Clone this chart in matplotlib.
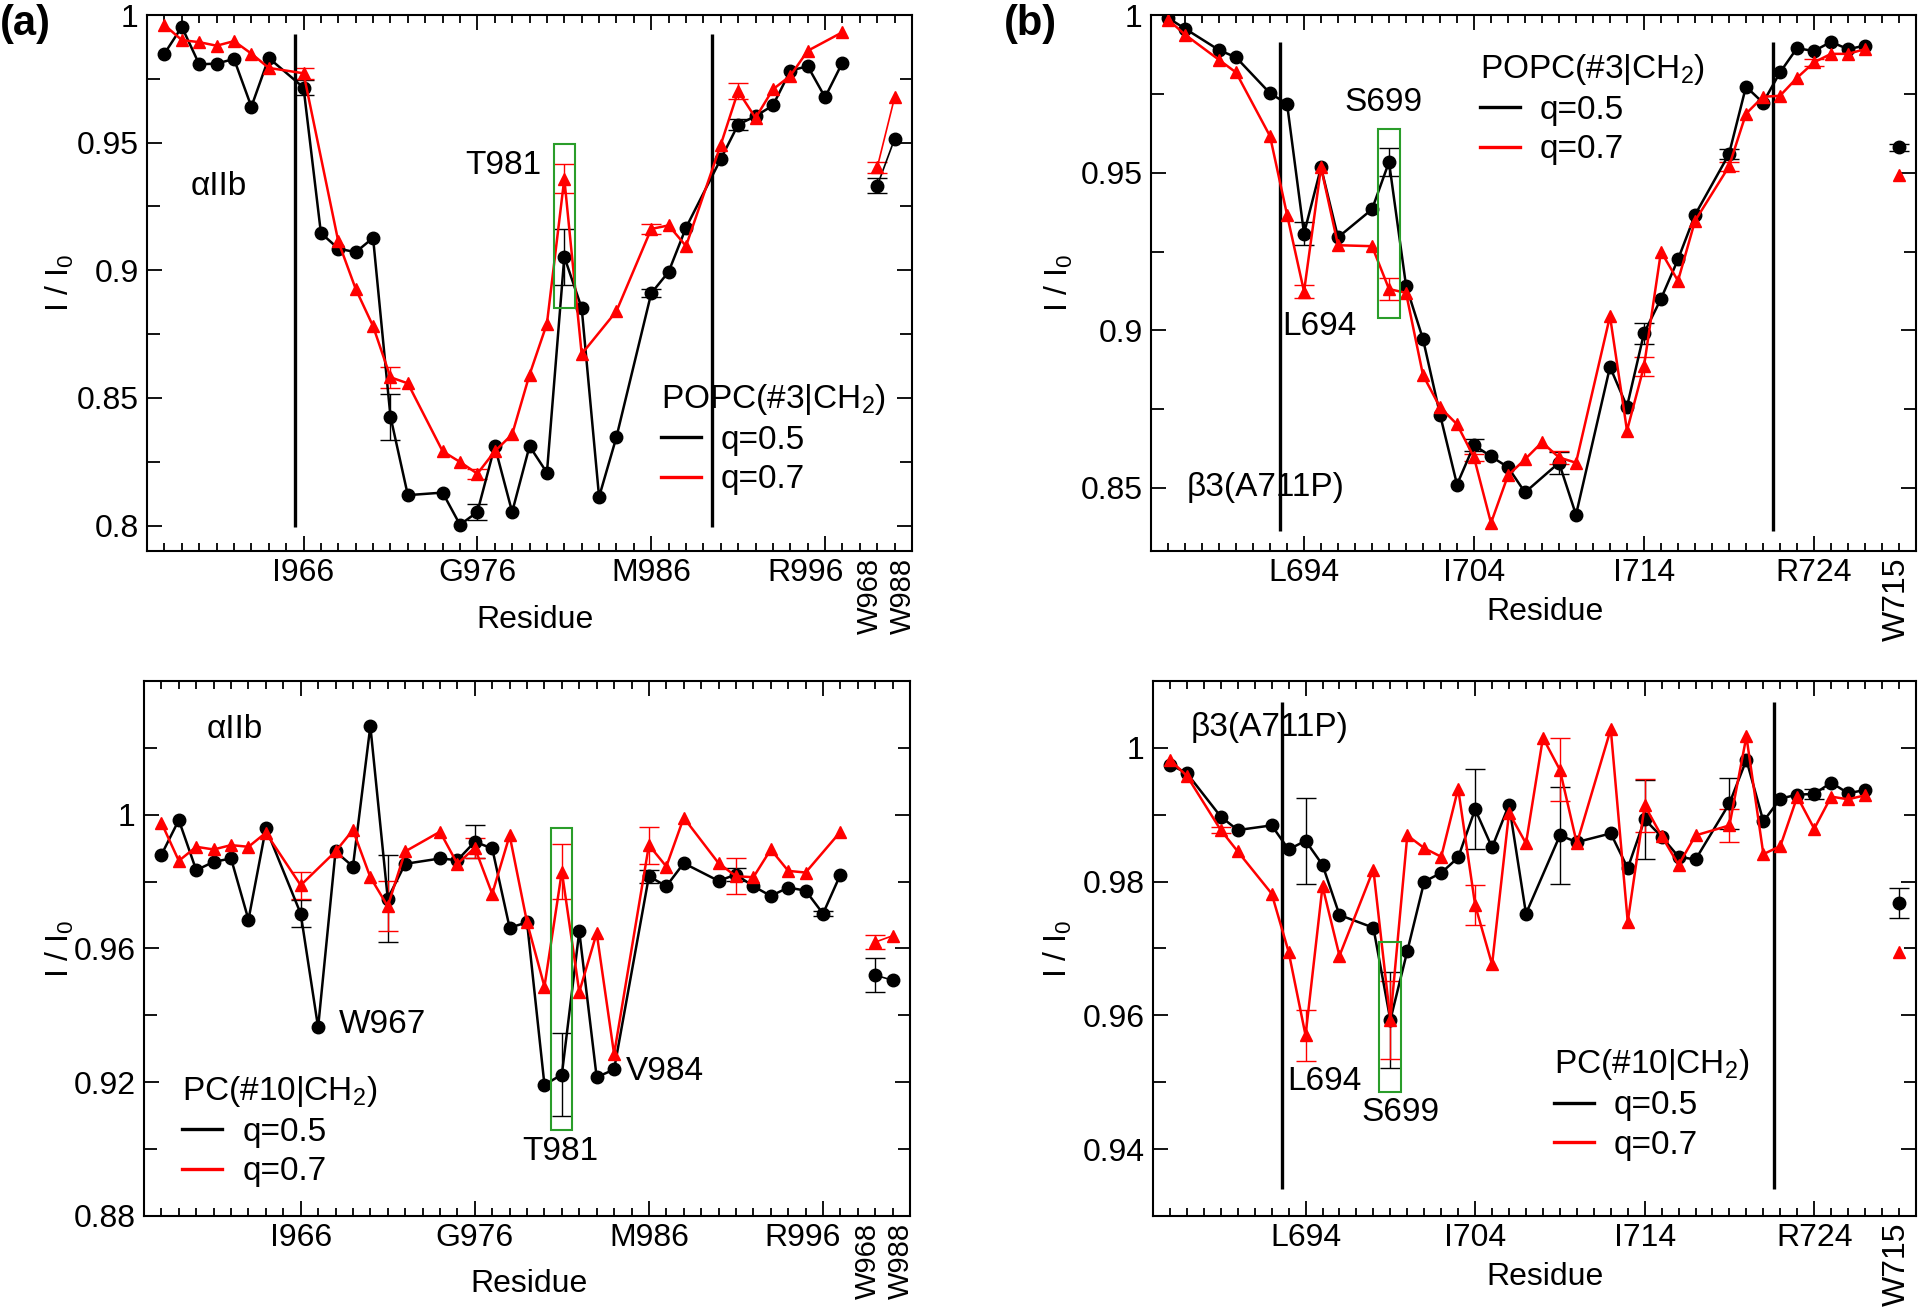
import matplotlib
matplotlib.use('Agg')
import matplotlib.pyplot as plt
from matplotlib.lines import Line2D
from matplotlib.patches import Rectangle
from matplotlib.transforms import ScaledTranslation

plt.rcParams['font.family'] = ['Liberation Sans', 'DejaVu Sans']
plt.rcParams['mathtext.fontset'] = 'custom'
plt.rcParams['mathtext.rm'] = 'Liberation Sans'
plt.rcParams['mathtext.it'] = 'Liberation Sans:italic'
plt.rcParams['mathtext.bf'] = 'Liberation Sans:bold'

# ---- panel (a): alphaIIb, x = residue number; W968 / W988 sit in slots 999 / 1000
a_res_05 = [958, 959, 960, 961, 962, 963, 964, 966, 967, 968, 969, 970, 971, 972,
            974, 975, 976, 977, 978, 979, 980, 981, 982, 983, 984,
            986, 987, 988, 990, 991, 992, 993, 994, 995, 996, 997]
a_top_05 = [0.9849, 0.9954, 0.9807, 0.9810, 0.9828, 0.9641, 0.9832, 0.9716, 0.9146, 0.9085,
            0.9071, 0.9127, 0.8427, 0.8119, 0.8129, 0.8003, 0.8053, 0.8311, 0.8053, 0.8311,
            0.8207, 0.9053, 0.8852, 0.8112, 0.8347, 0.8910, 0.8994, 0.9167, 0.9436, 0.9571,
            0.9604, 0.9646, 0.9782, 0.9800, 0.9678, 0.9814]
a_bot_05 = [0.9880, 0.9984, 0.9834, 0.9859, 0.9869, 0.9686, 0.9960, 0.9704, 0.9364, 0.9890,
            0.9845, 1.0265, 0.9749, 0.9853, 0.9869, 0.9864, 0.9919, 0.9899, 0.9662, 0.9678,
            0.9192, 0.9223, 0.9651, 0.9215, 0.9238, 0.9816, 0.9786, 0.9855, 0.9802, 0.9821,
            0.9786, 0.9757, 0.9782, 0.9773, 0.9704, 0.9821]

a_res_top_07 = [958, 959, 960, 961, 962, 963, 964, 966, 968, 969, 970, 971, 972,
                974, 975, 976, 977, 978, 979, 980, 981, 982, 984,
                986, 987, 988, 990, 991, 992, 993, 994, 995, 997]
a_top_07 = [0.9961, 0.9902, 0.9894, 0.9880, 0.9898, 0.9849, 0.9793, 0.9772, 0.9113, 0.8927,
            0.8781, 0.8581, 0.8557, 0.8291, 0.8249, 0.8203, 0.8291, 0.8357, 0.8591, 0.8791,
            0.9359, 0.8672, 0.8840, 0.9162, 0.9176, 0.9095, 0.9492, 0.9702, 0.9597, 0.9709,
            0.9762, 0.9860, 0.9933]
a_res_bot_07 = [958, 959, 960, 961, 962, 963, 964, 966, 968, 969, 970, 971, 972,
                974, 975, 976, 977, 978, 979, 980, 981, 982, 983, 984,
                986, 987, 988, 990, 991, 992, 993, 994, 995, 997]
a_bot_07 = [0.9976, 0.9862, 0.9904, 0.9896, 0.9909, 0.9904, 0.9946, 0.9789, 0.9890, 0.9954,
            0.9813, 0.9726, 0.9890, 0.9949, 0.9853, 0.9901, 0.9763, 0.9938, 0.9678, 0.9486,
            0.9830, 0.9470, 0.9646, 0.9284, 0.9909, 0.9845, 0.9991, 0.9855, 0.9816, 0.9813,
            0.9896, 0.9832, 0.9827, 0.9949]

a_trp_names = ['W968', 'W988']
a_trp_slots = [999, 1000]
a_trp_top_05 = [0.9331, 0.9515]
a_trp_top_07 = [0.9403, 0.9678]
a_trp_bot_05 = [0.9520, 0.9505]
a_trp_bot_07 = [0.9619, 0.9638]

# error bars (half widths) keyed by slot
a_top_err_05 = {966: 0.003, 971: 0.009, 976: 0.003, 981: 0.011, 986: 0.0015, 991: 0.002, 999: 0.003}
a_top_err_07 = {966: 0.0022, 971: 0.0042, 976: 0.002, 981: 0.0056, 986: 0.002, 991: 0.003, 999: 0.002}
a_bot_err_05 = {966: 0.004, 971: 0.013, 976: 0.005, 981: 0.0125, 986: 0.002, 991: 0.002,
                996: 0.0008, 999: 0.005}
a_bot_err_07 = {966: 0.004, 971: 0.0075, 976: 0.003, 981: 0.0082, 986: 0.0055, 991: 0.0054,
                999: 0.002}

a_ticks = [966, 976, 986, 996]
a_ticklabels = ['I966', 'G976', 'M986', 'R996']
a_tm_edges = [965.5, 989.5]

# ---- panel (b): beta3(A711P); W715 sits in slot 729
b_res_05 = [686, 687, 689, 690, 692, 693, 694, 695, 696, 698, 699, 700, 701, 702, 703,
            704, 705, 706, 707, 709, 710, 712, 713, 714, 715, 716, 717,
            719, 720, 721, 722, 723, 724, 725, 726, 727]
b_top_05 = [0.9991, 0.9957, 0.9889, 0.9866, 0.9752, 0.9719, 0.9307, 0.9517, 0.9295, 0.9384,
            0.9534, 0.9142, 0.8972, 0.8733, 0.8511, 0.8636, 0.8600, 0.8566, 0.8486, 0.8580,
            0.8415, 0.8884, 0.8758, 0.8991, 0.9100, 0.9225, 0.9366, 0.9559, 0.9773, 0.9722,
            0.9818, 0.9895, 0.9886, 0.9915, 0.9892, 0.9903]
b_bot_05 = [0.9975, 0.9962, 0.9897, 0.9877, 0.9884, 0.9848, 0.9861, 0.9825, 0.9750, 0.9731,
            0.9593, 0.9696, 0.9800, 0.9813, 0.9836, 0.9908, 0.9851, 0.9915, 0.9752, 0.9869,
            0.9859, 0.9872, 0.9820, 0.9893, 0.9867, 0.9837, 0.9833, 0.9917, 0.9982, 0.9890,
            0.9924, 0.9930, 0.9931, 0.9948, 0.9932, 0.9937]

b_res_07 = [686, 687, 689, 690, 692, 693, 694, 695, 696, 698, 699, 700, 701, 702, 703,
            704, 705, 706, 707, 708, 709, 710, 712, 713, 714, 715, 716, 717,
            719, 720, 721, 722, 723, 724, 725, 726, 727]
b_top_07 = [0.9986, 0.9938, 0.9858, 0.9818, 0.9616, 0.9367, 0.9123, 0.9517, 0.9270, 0.9267,
            0.9131, 0.9119, 0.8858, 0.8756, 0.8702, 0.8597, 0.8389, 0.8540, 0.8591, 0.8645,
            0.8597, 0.8580, 0.9045, 0.8682, 0.8886, 0.9250, 0.9157, 0.9347, 0.9520, 0.9687,
            0.9741, 0.9744, 0.9801, 0.9850, 0.9877, 0.9877, 0.9892]
b_bot_07 = [0.9982, 0.9958, 0.9877, 0.9845, 0.9782, 0.9695, 0.9570, 0.9793, 0.9689, 0.9818,
            0.9593, 0.9869, 0.9850, 0.9837, 0.9939, 0.9765, 0.9676, 0.9903, 0.9857, 1.0015,
            0.9967, 0.9857, 1.0028, 0.9740, 0.9914, 0.9868, 0.9825, 0.9869, 0.9884, 1.0017,
            0.9841, 0.9853, 0.9927, 0.9879, 0.9927, 0.9923, 0.9929]

b_trp_names = ['W715']
b_trp_slots = [729]
b_trp_top_05 = [0.9580]
b_trp_top_07 = [0.9494]
b_trp_bot_05 = [0.9768]
b_trp_bot_07 = [0.9695]

b_top_err_05 = {694: 0.0037, 699: 0.0045, 704: 0.002, 709: 0.0035, 714: 0.0033, 719: 0.0015, 729: 0.001}
b_top_err_07 = {694: 0.002, 699: 0.0035, 704: 0.001, 709: 0.002, 714: 0.003, 719: 0.0015, 724: 0.001}
b_bot_err_05 = {694: 0.0064, 699: 0.0072, 704: 0.006, 709: 0.0072, 714: 0.0059, 719: 0.0038,
                724: 0.0008, 729: 0.0022}
b_bot_err_07 = {689: 0.0005, 694: 0.0038, 699: 0.0058, 704: 0.003, 709: 0.0047, 714: 0.004, 719: 0.0025}

b_ticks = [694, 704, 714, 724]
b_ticklabels = ['L694', 'I704', 'I714', 'R724']
b_tm_edges = [692.6, 721.6]

FS = 23
GREEN = '#2a9d2a'
TICKPAD = 5


def draw(ax, res, vals, slots, trp, err, color, marker, ms):
    ax.plot(res, vals, color=color, lw=1.8, marker=marker, ms=ms, zorder=3)
    ax.plot(slots, trp, color=color, lw=1.2, marker=marker, ms=ms, zorder=3)
    y_of = dict(zip(list(res) + list(slots), list(vals) + list(trp)))
    ex = list(err.keys())
    ax.errorbar(ex, [y_of[r] for r in ex], yerr=list(err.values()), fmt='none',
                ecolor=color, elinewidth=1.0, capsize=7, capthick=1.0, zorder=2)


def under_axis(ax, x, text, rotation=0, size=FS):
    # text hung below the x axis, same gap as the tick labels
    tr = ax.get_xaxis_transform() + ScaledTranslation(0, -TICKPAD / 72, ax.figure.dpi_scale_trans)
    ax.text(x, 0, text, transform=tr, ha='center', va='top', rotation=rotation, fontsize=size)


def setup(ax, xlim, majors, labels, ylim, yticks, ylabels, yminor):
    ax.set_xlim(*xlim)
    ax.set_ylim(*ylim)
    ax.set_xticks(majors, labels)
    ax.set_xticks([r for r in range(xlim[0] + 1, xlim[1]) if r not in majors], minor=True)
    ax.set_yticks(yticks, ylabels)
    ax.set_yticks(yminor, minor=True)
    ax.tick_params(which='both', direction='in', top=True, right=True, labelsize=FS, width=1.3)
    ax.tick_params(axis='x', which='major', length=11, pad=TICKPAD)
    ax.tick_params(axis='x', which='minor', length=6)
    ax.tick_params(axis='y', which='major', length=11, pad=6)
    ax.tick_params(axis='y', which='minor', length=9)
    for s in ax.spines.values():
        s.set_linewidth(1.5)
    ax.set_xlabel('Residue', fontsize=FS)
    ax.set_ylabel('I / I$_0$', fontsize=FS)


def legend(ax, title, x, y):
    handles = [Line2D([], [], color='black', lw=2.4), Line2D([], [], color='red', lw=2.4)]
    ax.legend(handles, ['q=0.5', 'q=0.7'], title=title, loc='upper left',
              bbox_to_anchor=(x, y), frameon=False, fontsize=24, title_fontsize=24,
              borderpad=0, borderaxespad=0, handlelength=1.2, handletextpad=0.6,
              labelspacing=0.25, alignment='left')


def box(ax, res, half, y0, y1):
    ax.add_patch(Rectangle((res - half, y0), 2 * half, y1 - y0, fill=False,
                           edgecolor=GREEN, lw=1.5, zorder=4))


fig = plt.figure(figsize=(19.2, 13.12), dpi=100)
ax_at = fig.add_axes([0.0766, 0.580, 0.3984, 0.4085])
ax_bt = fig.add_axes([0.5995, 0.580, 0.3984, 0.4085])
ax_ab = fig.add_axes([0.0750, 0.0732, 0.3990, 0.4078])
ax_bb = fig.add_axes([0.6005, 0.0732, 0.3974, 0.4078])

# the alphaIIb axis: R996 is nudged left and the two Trp labels spread apart
a_label_x = [994.85, 998.6, 1000.45]


def alpha_labels(ax):
    ax.set_xticklabels(a_ticklabels[:-1] + [''])
    under_axis(ax, a_label_x[0], a_ticklabels[-1])
    for x, name in zip(a_label_x[1:], a_trp_names):
        under_axis(ax, x, name, rotation=90, size=21)


# (a) top
ax = ax_at
draw(ax, a_res_05, a_top_05, a_trp_slots, a_trp_top_05, a_top_err_05, 'black', 'o', 9)
draw(ax, a_res_top_07, a_top_07, a_trp_slots, a_trp_top_07, a_top_err_07, 'red', '^', 9)
ax.vlines(a_tm_edges, 0.7993, 0.9926, color='black', lw=2.4, zorder=2)
box(ax, 981, 0.6, 0.8854, 0.9496)
setup(ax, (957, 1001), a_ticks, a_ticklabels, (0.79, 1.0),
      [0.8, 0.85, 0.9, 0.95, 1.0], ['0.8', '0.85', '0.9', '0.95', '1'],
      [0.825, 0.875, 0.925, 0.975])
alpha_labels(ax)
ax.text(959.5, 0.933, 'αIIb', fontsize=24, va='center')
ax.text(979.7, 0.941, 'T981', fontsize=24, va='center', ha='right')
legend(ax, 'POPC(#3|CH$_2$)', 0.672, 0.316)
ax.yaxis.set_label_coords(-0.093, 0.5)
ax.xaxis.set_label_coords(0.507, -0.100)

# (b) top
ax = ax_bt
draw(ax, b_res_05, b_top_05, b_trp_slots, b_trp_top_05, b_top_err_05, 'black', 'o', 9)
draw(ax, b_res_07, b_top_07, b_trp_slots, b_trp_top_07, b_top_err_07, 'red', '^', 9)
ax.vlines(b_tm_edges, 0.8364, 0.9915, color='black', lw=2.4, zorder=2)
box(ax, 699, 0.64, 0.904, 0.964)
setup(ax, (685, 730), b_ticks, b_ticklabels, (0.83, 1.0),
      [0.85, 0.9, 0.95, 1.0], ['0.85', '0.9', '0.95', '1'], [0.875, 0.925, 0.975])
under_axis(ax, b_trp_slots[0] - 0.1, b_trp_names[0], rotation=90)
ax.text(698.7, 0.9722, 'S699', fontsize=24, va='center', ha='center')
ax.text(692.7, 0.9011, 'L694', fontsize=24, va='center')
ax.text(687.1, 0.850, 'β3(A711P)', fontsize=24, va='center')
legend(ax, 'POPC(#3|CH$_2$)', 0.430, 0.932)
ax.yaxis.set_label_coords(-0.100, 0.5)
ax.xaxis.set_label_coords(0.515, -0.086)

# (a) bottom
ax = ax_ab
draw(ax, a_res_05, a_bot_05, a_trp_slots, a_trp_bot_05, a_bot_err_05, 'black', 'o', 9)
draw(ax, a_res_bot_07, a_bot_07, a_trp_slots, a_trp_bot_07, a_bot_err_07, 'red', '^', 9)
box(ax, 981, 0.6, 0.9057, 0.996)
setup(ax, (957, 1001), a_ticks, a_ticklabels, (0.88, 1.04),
      [0.88, 0.92, 0.96, 1.0], ['0.88', '0.92', '0.96', '1'], [0.90, 0.94, 0.98, 1.02])
alpha_labels(ax)
ax.text(960.6, 1.0254, 'αIIb', fontsize=24, va='center')
ax.text(968.2, 0.9374, 'W967', fontsize=24, va='center')
ax.text(980.9, 0.8992, 'T981', fontsize=24, va='center', ha='center')
ax.text(984.7, 0.9231, 'V984', fontsize=24, va='center')
legend(ax, 'PC(#10|CH$_2$)', 0.050, 0.266)
ax.yaxis.set_label_coords(-0.089, 0.5)
ax.xaxis.set_label_coords(0.502, -0.100)

# (b) bottom
ax = ax_bb
draw(ax, b_res_05, b_bot_05, b_trp_slots, b_trp_bot_05, b_bot_err_05, 'black', 'o', 9)
draw(ax, b_res_07, b_bot_07, b_trp_slots, b_trp_bot_07, b_bot_err_07, 'red', '^', 9)
ax.vlines(b_tm_edges, 0.9341, 1.0069, color='black', lw=2.4, zorder=2)
box(ax, 699, 0.64, 0.9485, 0.971)
setup(ax, (685, 730), b_ticks, b_ticklabels, (0.93, 1.01),
      [0.94, 0.96, 0.98, 1.0], ['0.94', '0.96', '0.98', '1'], [0.95, 0.97, 0.99])
under_axis(ax, b_trp_slots[0] - 0.1, b_trp_names[0], rotation=90)
ax.text(687.2, 1.003, 'β3(A711P)', fontsize=24, va='center')
ax.text(692.9, 0.9501, 'L694', fontsize=24, va='center')
ax.text(699.6, 0.9455, 'S699', fontsize=24, va='center', ha='center')
legend(ax, 'PC(#10|CH$_2$)', 0.525, 0.316)
ax.yaxis.set_label_coords(-0.103, 0.5)
ax.xaxis.set_label_coords(0.514, -0.086)

fig.text(25 / 1920, 1 - 24 / 1312, '(a)', fontsize=30, weight='bold', ha='center', va='center')
fig.text(1030 / 1920, 1 - 24 / 1312, '(b)', fontsize=30, weight='bold', ha='center', va='center')

fig.savefig('out.png', dpi=100)
